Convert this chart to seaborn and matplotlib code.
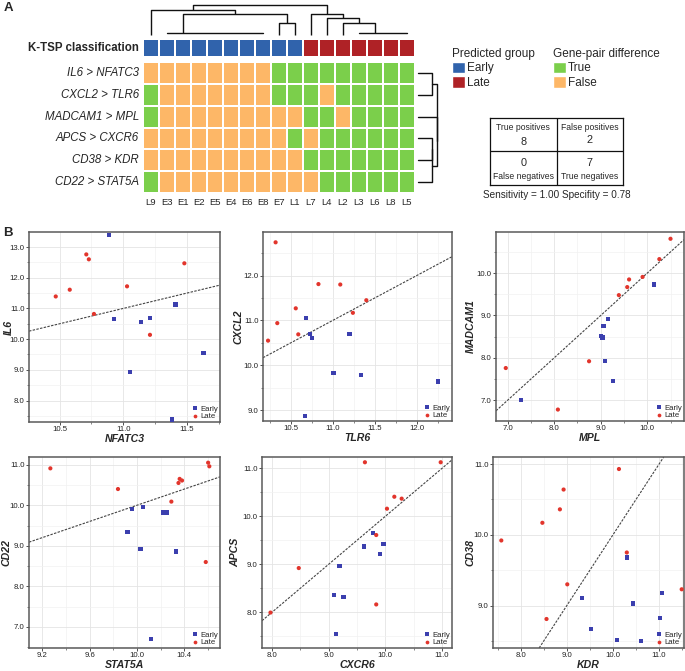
import numpy as np
import pandas as pd
import matplotlib
matplotlib.use("Agg")
import matplotlib.pyplot as plt
import seaborn as sns
from matplotlib.colors import ListedColormap
from matplotlib.patches import Patch
from matplotlib.ticker import MultipleLocator, FormatStrFormatter

# ---------------- data: panel A ----------------
samples = ['L9', 'E3', 'E1', 'E2', 'E5', 'E4', 'E6', 'E8', 'E7', 'L1',
           'L7', 'L4', 'L2', 'L3', 'L6', 'L8', 'L5']
predicted = ['Early', 'Early', 'Early', 'Early', 'Early', 'Early', 'Early', 'Early',
             'Early', 'Early', 'Late', 'Late', 'Late', 'Late', 'Late', 'Late', 'Late']
gene_pairs = ['IL6 > NFATC3', 'CXCL2 > TLR6', 'MADCAM1 > MPL',
              'APCS > CXCR6', 'CD38 > KDR', 'CD22 > STAT5A']
pair_true = [
    [0, 0, 0, 0, 0, 0, 0, 0, 1, 1, 1, 1, 1, 1, 1, 1, 1],
    [1, 0, 0, 0, 0, 0, 0, 0, 1, 1, 1, 0, 1, 1, 1, 1, 1],
    [1, 0, 0, 0, 0, 0, 0, 0, 0, 0, 1, 1, 0, 1, 1, 1, 1],
    [0, 0, 0, 0, 0, 0, 0, 0, 0, 1, 0, 1, 1, 1, 1, 1, 1],
    [0, 0, 0, 0, 0, 0, 0, 0, 0, 0, 1, 1, 1, 1, 1, 1, 1],
    [1, 0, 0, 0, 0, 0, 0, 0, 0, 0, 0, 1, 1, 1, 1, 1, 1],
]
# column dendrogram merges: (left pos, right pos, height, left child h, right child h)
col_merges = [
    (8, 9, 37, 0, 0),
    (2, 8.5, 63, 5, 37),
    (0, 5.25, 75, 0, 63),
    (12, 14, 37, 0, 5),
    (11, 13, 50, 0, 37),
    (10, 12, 63, 0, 50),
    (2.625, 11, 90, 75, 63),
]
col_flat = [(1, 7, 5), (13, 16, 5)]
# row dendrogram merges: (top row pos, bottom row pos, level, child levels)
row_merges = [
    (0, 1, 0.69, 0, 0),
    (3, 4, 0.69, 0, 0),
    (3.5, 5, 0.70, 0.69, 0),
    (2, 4.25, 0.96, 0, 0.70),
    (0.5, 3.125, 0.97, 0.69, 0.96),
]
true_pos, false_pos, false_neg, true_neg = 8, 2, 0, 7

# ---------------- data: panel B ----------------
nfatc3_early = [10.89, 10.93, 11.05, 11.14, 11.21, 11.41, 11.63, 11.38]
il6_early = [13.39, 10.65, 8.92, 10.57, 10.70, 11.13, 9.55, 7.38]
nfatc3_late = [10.47, 10.58, 10.77, 11.03, 11.21, 11.48, 10.71, 10.73]
il6_late = [11.39, 11.61, 10.82, 11.72, 10.14, 12.47, 12.76, 12.60]

tlr6_early = [10.68, 10.73, 10.75, 11.20, 11.01, 11.34, 12.25, 10.67]
cxcl2_early = [11.06, 10.70, 10.60, 10.69, 9.82, 9.79, 9.64, 8.88]
tlr6_late = [10.23, 10.34, 10.56, 10.59, 10.83, 11.09, 11.24, 11.40, 10.32]
cxcl2_late = [10.55, 10.94, 11.27, 10.69, 11.81, 11.80, 11.17, 11.45, 12.74]

mpl_early = [7.29, 9.26, 9.10, 9.01, 9.04, 9.06, 9.15, 10.14]
madcam1_early = [7.00, 7.45, 7.92, 8.52, 8.48, 8.76, 8.92, 9.73]
mpl_late = [6.96, 8.08, 8.75, 9.39, 9.57, 9.61, 9.90, 10.26, 10.50]
madcam1_late = [7.76, 6.78, 7.92, 9.48, 9.67, 9.85, 9.91, 10.33, 10.81]

stat5a_early = [9.92, 9.96, 10.05, 10.03, 10.22, 10.25, 10.33, 10.12]
cd22_early = [9.34, 9.91, 9.95, 8.93, 9.82, 9.82, 8.86, 6.70]
stat5a_late = [9.27, 9.84, 10.29, 10.35, 10.36, 10.38, 10.58, 10.60, 10.61]
cd22_late = [10.91, 10.40, 10.09, 10.55, 10.65, 10.61, 8.60, 11.05, 10.96]

cxcr6_early = [9.19, 9.09, 9.26, 9.13, 9.62, 9.79, 9.90, 9.97]
apcs_early = [8.96, 8.36, 8.31, 7.54, 9.37, 9.66, 9.21, 9.43]
cxcr6_late = [7.97, 8.47, 9.64, 9.84, 9.84, 10.03, 10.16, 10.29, 10.98]
apcs_late = [7.99, 8.92, 11.13, 9.61, 8.16, 10.16, 10.41, 10.37, 11.13]

kdr_early = [9.33, 10.31, 10.44, 9.53, 10.08, 10.61, 11.02, 11.07]
cd38_early = [9.11, 9.68, 9.03, 8.67, 8.51, 8.50, 8.82, 9.18]
kdr_late = [7.58, 8.47, 8.85, 8.93, 10.13, 10.30, 9.01, 8.56, 11.49]
cd38_late = [9.92, 10.17, 10.36, 10.64, 10.93, 9.75, 9.30, 8.81, 9.23]

# ---------------- style ----------------
sns.set_style("white")
plt.rcParams['font.family'] = ['Liberation Sans', 'DejaVu Sans']

BLUE = '#3063AC'
RED = '#AF2226'
GREEN = '#7BCF4B'
ORANGE = '#FDB767'
PT_BLUE = '#3B3FAE'
PT_RED = '#E2352C'

W, H = 685, 671
fig = plt.figure(figsize=(W / 100, H / 100), dpi=100)


def box(x0, y0, x1, y1):
    return [x0 / W, 1 - y1 / H, (x1 - x0) / W, (y1 - y0) / H]


# ---------------- panel A ----------------
ax_cls = fig.add_axes(box(143, 39, 415, 57))
cls_df = pd.DataFrame([[0 if p == 'Early' else 1 for p in predicted]],
                      index=['K-TSP classification'], columns=samples)
sns.heatmap(cls_df, ax=ax_cls, cmap=ListedColormap([BLUE, RED]), vmin=0, vmax=1,
            cbar=False, linewidths=1.2, linecolor='white', xticklabels=False)
ax_cls.set_yticklabels(['K-TSP classification'], rotation=0, fontweight='bold',
                       fontsize=8.3)
ax_cls.tick_params(length=0, pad=3)
ax_cls.set_xlabel('')
ax_cls.set_ylabel('')

ax_hm = fig.add_axes(box(143, 62, 415, 193))
hm_df = pd.DataFrame(pair_true, index=gene_pairs, columns=samples)
sns.heatmap(hm_df, ax=ax_hm, cmap=ListedColormap([ORANGE, GREEN]), vmin=0, vmax=1,
            cbar=False, linewidths=1.2, linecolor='white')
ax_hm.set_yticklabels(gene_pairs, rotation=0, fontstyle='italic', fontsize=8.3)
ax_hm.set_xticklabels(samples, rotation=0, fontsize=6.8)
ax_hm.tick_params(length=0, pad=3)
ax_hm.tick_params(axis='x', pad=3.5)
ax_hm.set_xlabel('')
ax_hm.set_ylabel('')

# column dendrogram
ax_cd = fig.add_axes(box(143, 5, 415, 35))
for (xl, xr, h, hl, hr) in col_merges:
    ax_cd.plot([xl + 0.5, xl + 0.5, xr + 0.5, xr + 0.5], [hl, h, h, hr],
               color='#111111', lw=1.0, clip_on=False, solid_capstyle='butt')
for (xl, xr, h) in col_flat:
    ax_cd.plot([xl + 0.5, xr + 0.5], [h, h], color='#111111', lw=1.0, clip_on=False)
ax_cd.set_xlim(0, len(samples))
ax_cd.set_ylim(0, 90)
ax_cd.axis('off')

# row dendrogram
ax_rd = fig.add_axes(box(418, 62, 438, 193))
for (yt, yb, lev, lt, lb) in row_merges:
    ax_rd.plot([lt, lev, lev, lb], [yt + 0.5, yt + 0.5, yb + 0.5, yb + 0.5],
               color='#111111', lw=1.0, clip_on=False)
ax_rd.set_xlim(0, 1)
ax_rd.set_ylim(len(gene_pairs), 0)
ax_rd.axis('off')

# legends
leg_kw = dict(loc='upper left', frameon=False, fontsize=8.5, title_fontsize=8.5,
              handlelength=1.1, handleheight=1.1, handletextpad=0.15,
              labelspacing=0.15, borderpad=0, borderaxespad=0, alignment='left')
leg1 = fig.legend(handles=[Patch(facecolor=BLUE, label='Early'),
                           Patch(facecolor=RED, label='Late')],
                  title='Predicted group',
                  bbox_to_anchor=(452 / W, 1 - 48 / H), **leg_kw)
leg2 = fig.legend(handles=[Patch(facecolor=GREEN, label='True'),
                           Patch(facecolor=ORANGE, label='False')],
                  title='Gene-pair difference',
                  bbox_to_anchor=(553 / W, 1 - 48 / H), **leg_kw)

# confusion table
ax_t = fig.add_axes(box(490, 118, 623, 185))
ax_t.set_xlim(0, 2)
ax_t.set_ylim(0, 2)
ax_t.axhline(1, color='#111111', lw=0.9)
ax_t.axvline(1, color='#111111', lw=0.9)
for s in ax_t.spines.values():
    s.set_visible(True)
    s.set_color('#111111')
    s.set_linewidth(0.9)
ax_t.set_xticks([])
ax_t.set_yticks([])
ax_t.text(0.5, 1.72, 'True positives', ha='center', va='center', fontsize=6.2)
ax_t.text(0.5, 1.28, str(true_pos), ha='center', va='center', fontsize=7.8)
ax_t.text(1.5, 1.72, 'False positives', ha='center', va='center', fontsize=6.2)
ax_t.text(1.5, 1.33, str(false_pos), ha='center', va='center', fontsize=7.8)
ax_t.text(0.5, 0.67, str(false_neg), ha='center', va='center', fontsize=7.8)
ax_t.text(0.5, 0.24, 'False negatives', ha='center', va='center', fontsize=6.2)
ax_t.text(1.5, 0.67, str(true_neg), ha='center', va='center', fontsize=7.8)
ax_t.text(1.5, 0.24, 'True negatives', ha='center', va='center', fontsize=6.2)
sens = true_pos / (true_pos + false_neg)
spec = true_neg / (true_neg + false_pos)
fig.text(557 / W, 1 - 195 / H, f'Sensitivity = {sens:.2f} Specifity = {spec:.2f}',
         ha='center', va='center', fontsize=7.2)

fig.text(4 / W, 1 - 8 / H, 'A', fontweight='bold', fontsize=9.5, va='center')
fig.text(3 / W, 1 - 233 / H, 'B', fontweight='bold', fontsize=9.5, va='center')

# ---------------- panel B ----------------
panels = [
    ('NFATC3', 'IL6', nfatc3_early, il6_early, nfatc3_late, il6_late),
    ('TLR6', 'CXCL2', tlr6_early, cxcl2_early, tlr6_late, cxcl2_late),
    ('MPL', 'MADCAM1', mpl_early, madcam1_early, mpl_late, madcam1_late),
    ('STAT5A', 'CD22', stat5a_early, cd22_early, stat5a_late, cd22_late),
    ('CXCR6', 'APCS', cxcr6_early, apcs_early, cxcr6_late, apcs_late),
    ('KDR', 'CD38', kdr_early, cd38_early, kdr_late, cd38_late),
]
boxes = [(29, 232, 220, 422), (263, 232, 452, 421), (496, 232, 684, 421),
         (29, 457, 220, 648), (262, 457, 452, 648), (493, 457, 684, 648)]
xlims = [(10.26, 11.76), (10.17, 12.42), (6.75, 10.79),
         (9.09, 10.70), (7.82, 11.18), (7.40, 11.54)]
ylims = [(7.30, 13.49), (8.76, 12.97), (6.51, 10.97),
         (6.48, 11.19), (7.25, 11.24), (8.40, 11.10)]
xsteps = [(0.5, 0.25), (0.5, 0.25), (1.0, 0.5), (0.4, 0.2), (1.0, 0.5), (1.0, 0.5)]
ysteps = [(1.0, 0.5)] * 6
ylabel_x = [-0.082, -0.105, -0.105, -0.094, -0.116, -0.094]

for i, (xn, yn, xe, ye, xl, yl) in enumerate(panels):
    ax = fig.add_axes(box(*boxes[i]))
    df = pd.DataFrame({xn: xe + xl, yn: ye + yl,
                       'group': ['Early'] * len(xe) + ['Late'] * len(xl)})
    ax.axline((0, 0), slope=1, color='#444444', lw=0.8, ls=(0, (2.2, 1.2)), zorder=2)
    sns.scatterplot(data=df, x=xn, y=yn, hue='group', style='group',
                    markers={'Early': 's', 'Late': 'o'},
                    palette={'Early': PT_BLUE, 'Late': PT_RED},
                    s=9, linewidth=0, ax=ax, zorder=3)
    ax.set_xlim(*xlims[i])
    ax.set_ylim(*ylims[i])
    ax.xaxis.set_major_locator(MultipleLocator(xsteps[i][0]))
    ax.xaxis.set_minor_locator(MultipleLocator(xsteps[i][1]))
    ax.yaxis.set_major_locator(MultipleLocator(ysteps[i][0]))
    ax.yaxis.set_minor_locator(MultipleLocator(ysteps[i][1]))
    ax.xaxis.set_major_formatter(FormatStrFormatter('%.1f'))
    ax.yaxis.set_major_formatter(FormatStrFormatter('%.1f'))
    ax.grid(which='major', color='#e4e4e4', lw=0.6)
    ax.grid(which='minor', color='#f2f2f2', lw=0.5)
    ax.set_axisbelow(True)
    for s in ax.spines.values():
        s.set_visible(True)
        s.set_color('#5a5a5a')
        s.set_linewidth(1.1)
    ax.tick_params(which='major', direction='out', length=2, width=0.6,
                   color='#333333', labelsize=5.6, pad=1, labelcolor='#222222',
                   bottom=True, left=True)
    ax.tick_params(which='minor', direction='out', length=1.3, width=0.5,
                   color='#555555', bottom=True, left=True)
    ax.set_xlabel(xn, fontstyle='italic', fontweight='bold', fontsize=7.6, labelpad=0.5)
    ax.set_ylabel(yn, fontstyle='italic', fontweight='bold', fontsize=7.6)
    ax.yaxis.set_label_coords(ylabel_x[i], 0.5)
    h, l = ax.get_legend_handles_labels()
    ax.legend(h, l, loc='lower right', fontsize=5.6, frameon=False,
              handletextpad=-0.3, borderaxespad=0.1, labelspacing=0.05,
              borderpad=0.1, markerscale=0.9)

fig.savefig('out.png', dpi=100)
